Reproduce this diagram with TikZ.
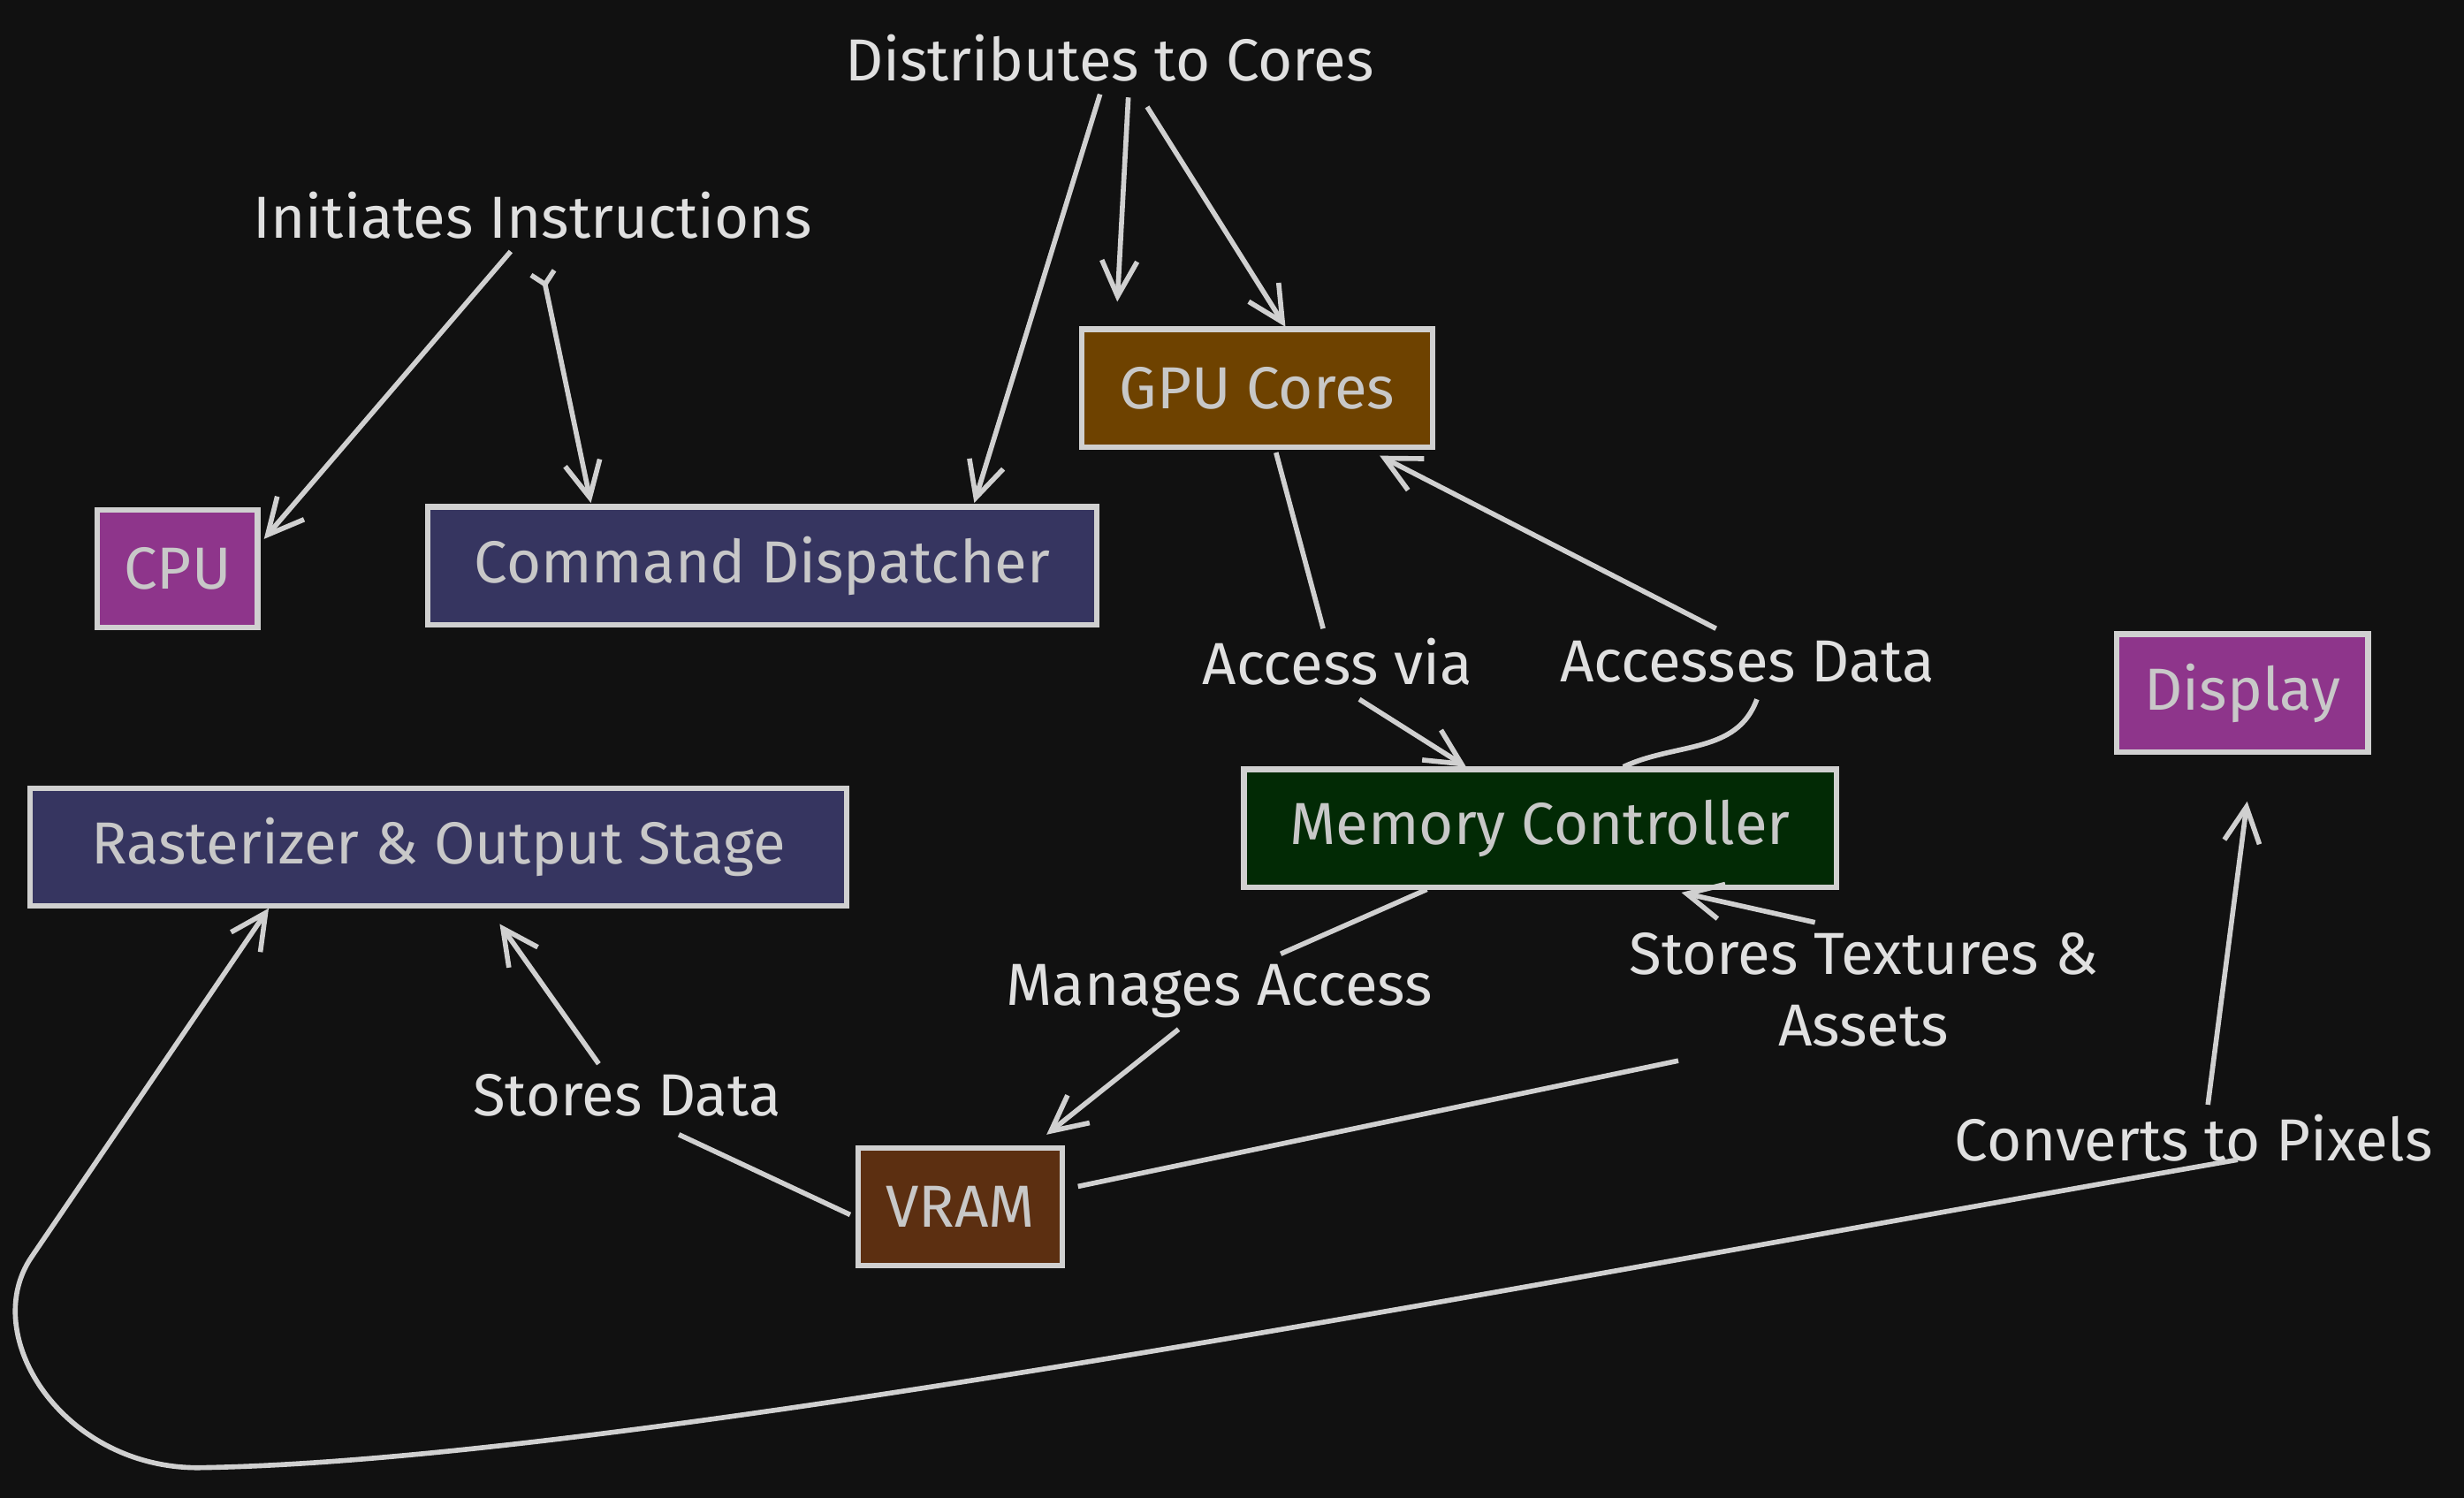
\documentclass[tikz,border=0pt]{standalone}
\usepackage{fontspec}
\setmainfont{Fira Sans}
\usepackage{xcolor}
\usepackage{tikz}
\usetikzlibrary{arrows.meta}

\definecolor{bgdark}{HTML}{111111}
\definecolor{linegray}{HTML}{D0D0D0}
\definecolor{labeltext}{HTML}{E0E0E0}
\definecolor{boxtext}{HTML}{C8C8C8}
\definecolor{cpupurple}{HTML}{8E358B}
\definecolor{dispblue}{HTML}{363560}
\definecolor{gpubrown}{HTML}{6E4200}
\definecolor{memgreen}{HTML}{022A05}
\definecolor{vrambrown}{HTML}{5C2F11}

\begin{document}
\begin{tikzpicture}[
  x=0.02cm, y=0.02cm,
  box/.style={draw=linegray, line width=2pt, align=center, minimum height=1.5cm,
              text=boxtext, font=\fontsize{21.5}{26}\selectfont},
  elabel/.style={text=labeltext, align=center, inner sep=2pt,
                 font=\fontsize{21.5}{26}\selectfont},
  arrow/.style={draw=linegray, line width=1.8pt, -{Straight Barb[length=4.5mm,width=4.5mm]}},
  link/.style={draw=linegray, line width=1.8pt}
]
\fill[bgdark] (0,0) rectangle (1568,-953);
\useasboundingbox (0,0) rectangle (1568,-953);

\node[box, fill=cpupurple, minimum width=2.04cm] (cpu) at (113,-362) {CPU};
\node[box, fill=dispblue, minimum width=8.52cm] (dispatcher) at (485,-360) {Command Dispatcher};
\node[box, fill=gpubrown, minimum width=4.46cm] (gpu) at (800,-247) {GPU Cores};
\node[box, fill=cpupurple, minimum width=3.2cm] (display) at (1427,-441) {Display};
\node[box, fill=dispblue, minimum width=10.4cm] (raster) at (279,-539) {Rasterizer \& Output Stage};
\node[box, fill=memgreen, minimum width=7.54cm] (memctrl) at (980,-527) {Memory Controller};
\node[box, fill=vrambrown, minimum width=2.6cm] (vram) at (611,-768) {VRAM};

\node[elabel] (distrib) at (706,-37) {Distributes to Cores};
\node[elabel] (initiates) at (339,-137) {Initiates Instructions};
\node[elabel] (accvia) at (851,-421) {Access via};
\node[elabel] (accdata) at (1112,-421) {Accesses Data};
\node[elabel] (manages) at (776,-631) {Manages Access};
\node[elabel] (textures) at (1186,-630) {Stores Textures \&\\Assets};
\node[elabel] (storesdata) at (399,-697) {Stores Data};
\node[elabel] (converts) at (1396,-724) {Converts to Pixels};

% CPU side
\draw[arrow] ([shift={(-14,-23)}]initiates.center) -- ([shift={(55,19)}]cpu.center);
\draw[draw=linegray, line width=1.8pt, {Straight Barb[reversed,length=1.5mm,width=3mm]}-{Straight Barb[length=4.5mm,width=4.5mm]}]
  ([shift={(6,-35)}]initiates.center) -- ([shift={(-109,40)}]dispatcher.center);
\draw[arrow] ([shift={(-6,-23)}]distrib.center) -- ([shift={(135,40)}]dispatcher.center);
\draw[arrow] ([shift={(12,-25)}]distrib.center) -- ([shift={(-89,55)}]gpu.center);
\draw[arrow] ([shift={(24,-31)}]distrib.center) -- ([shift={(18,39)}]gpu.center);

% GPU and memory
\draw[link] ([shift={(12,-41)}]gpu.center) -- ([shift={(-9,21)}]accvia.center);
\draw[arrow] ([shift={(14,-24)}]accvia.center) -- ([shift={(-47,39)}]memctrl.center);
\draw[link] ([shift={(53,39)}]memctrl.center) to[out=25,in=-110] ([shift={(6,-24)}]accdata.center);
\draw[arrow] ([shift={(-20,21)}]accdata.center) -- ([shift={(78,-43)}]gpu.center);
\draw[link] ([shift={(-72,-39)}]memctrl.center) -- ([shift={(39,24)}]manages.center);
\draw[arrow] ([shift={(-26,-24)}]manages.center) -- ([shift={(55,46)}]vram.center);
\draw[link] ([shift={(75,13)}]vram.center) -- ([shift={(-118,-45)}]textures.center);
\draw[arrow] ([shift={(-31,43)}]textures.center) -- ([shift={(90,-41)}]memctrl.center);

% output
\draw[link] ([shift={(-70,-5)}]vram.center) -- ([shift={(33,-25)}]storesdata.center);
\draw[arrow] ([shift={(-18,20)}]storesdata.center) -- ([shift={(39,-49)}]raster.center);
\draw[arrow] ([shift={(9,21)}]converts.center) -- ([shift={(3,-69)}]display.center);
\draw[arrow] ([shift={(28,-14)}]converts.center) .. controls (1000,-812) and (400,-930) .. (126,-934)
  .. controls (40,-934) and (-14,-850) .. (20,-800) -- ([shift={(-108,-39)}]raster.center);
\end{tikzpicture}
\end{document}
